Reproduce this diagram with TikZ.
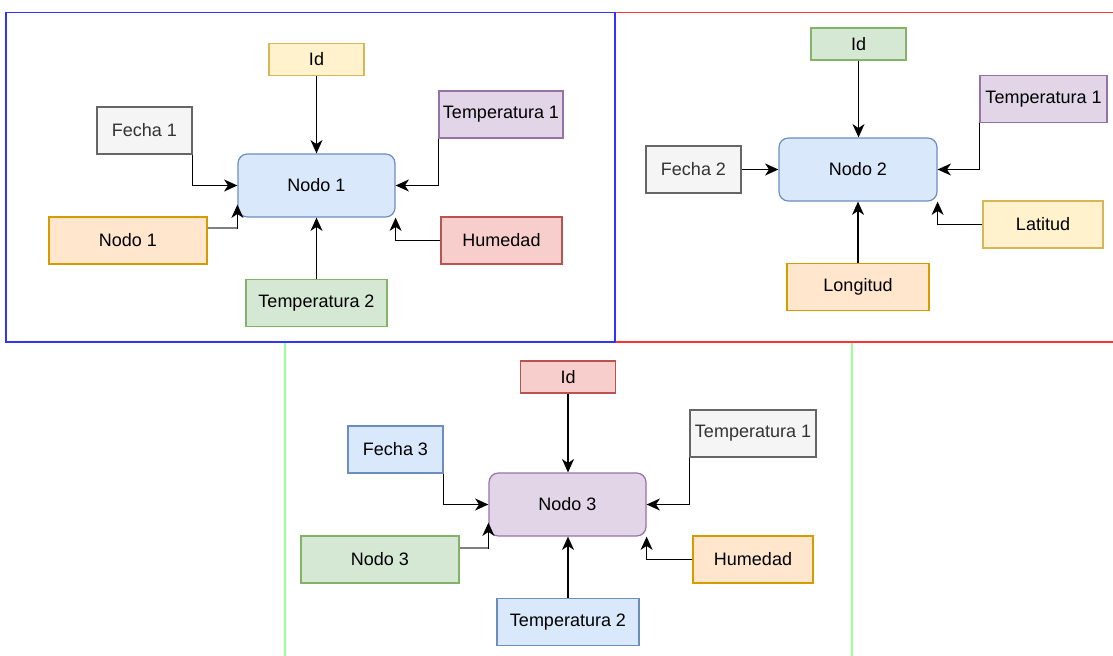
\documentclass[tikz,border=0pt]{standalone}
\usepackage{fontspec}
\setmainfont{Liberation Sans}
\usetikzlibrary{arrows.meta,calc}
\definecolor{yfill}{HTML}{FFF2CC}\definecolor{ydraw}{HTML}{D6B656}
\definecolor{gfill}{HTML}{F5F5F5}\definecolor{gdraw}{HTML}{666666}\definecolor{gtext}{HTML}{333333}
\definecolor{pfill}{HTML}{E1D5E7}\definecolor{pdraw}{HTML}{9673A6}
\definecolor{bfill}{HTML}{DAE8FC}\definecolor{bdraw}{HTML}{6C8EBF}
\definecolor{ofill}{HTML}{FFE6CC}\definecolor{odraw}{HTML}{D79B00}
\definecolor{rfill}{HTML}{F8CECC}\definecolor{rdraw}{HTML}{B85450}
\definecolor{grfill}{HTML}{D5E8D4}\definecolor{grdraw}{HTML}{82B366}
\definecolor{frameblue}{HTML}{3333FF}\definecolor{framered}{HTML}{FF3333}\definecolor{framegreen}{HTML}{99FF99}
\begin{document}
\begin{tikzpicture}[x=0.75pt,y=-0.75pt,
  font=\fontsize{13.5}{16}\selectfont,
  box/.style 2 args={draw=#2,fill=#1,line width=0.9pt,inner sep=0pt,text=black},
  ybox/.style={box={yfill}{ydraw}},
  gbox/.style={box={gfill}{gdraw},text=gtext},
  pbox/.style={box={pfill}{pdraw}},
  bbox/.style={box={bfill}{bdraw}},
  obox/.style={box={ofill}{odraw}},
  rbox/.style={box={rfill}{rdraw}},
  grbox/.style={box={grfill}{grdraw}},
  hub/.style={rounded corners=7pt},
  sz/.style 2 args={minimum width=#1*0.75pt,minimum height=#2*0.75pt},
  conn/.style={draw=black,line width=1.05pt,-{Stealth[length=10pt,width=9pt,inset=3pt]}},
  grayseg/.style={draw=gray,line width=2pt},
  frame/.style={line width=1.3pt}]
\useasboundingbox (0,0) rectangle (1113,656);
\fill[white] (0,0) rectangle (1113,656);
% frames
\draw[frame,framegreen] (285,342) -- (285,656);
\draw[frame,framegreen] (852,342) -- (852,656);
\draw[frame,framered] (615,12.5) -- (1113,12.5);
\draw[frame,framered] (615,342) -- (1113,342);
\draw[frame,frameblue] (6,12.5) rectangle (615,342);
% panel 1
\node[ybox,sz={95}{32}] (id1) at (316.5,59.5) {Id};
\node[gbox,sz={95}{47}] (fe1) at (144.5,130.5) {Fecha 1};
\node[pbox,sz={124}{47}] (t11) at (501,114.5) {Temperatura 1};
\node[bbox,hub,sz={157}{63}] (n1) at (316.5,185.5) {Nodo 1};
\node[obox,sz={158}{47}] (no1) at (128,240.5) {Nodo 1};
\node[rbox,sz={121}{47}] (hu1) at (501.5,240.5) {Humedad};
\node[grbox,sz={141}{47}] (t21) at (316.5,303) {Temperatura 2};
\coordinate (a1) at ($(no1.east)+(0,-12.5)$);
\coordinate (b1) at ($(n1.south west)+(0,-13)$);
\draw[conn] (id1.south) -- (n1.north);
\draw[conn] (fe1.south east) |- (n1.west);
\draw[conn] (t11.south west) |- (n1.east);
\draw[conn] (a1) -| (b1);
\draw[grayseg] (a1) -- ($(a1 -| b1)+(-0.5,0)$);
\draw[conn] (hu1.west) -| (n1.south east);
\draw[conn] (t21.north) -- (n1.south);
% panel 2
\node[grbox,sz={95}{32}] (id2) at (858.5,44) {Id};
\node[pbox,sz={127}{47}] (t12) at (1043.5,99) {Temperatura 1};
\node[gbox,sz={95}{47}] (fe2) at (693.5,169.5) {Fecha 2};
\node[bbox,hub,sz={158}{63}] (n2) at (858,169.5) {Nodo 2};
\node[ybox,sz={120}{47}] (la2) at (1043,224.5) {Latitud};
\node[obox,sz={142}{47}] (lo2) at (858,287) {Longitud};
\draw[conn] (id2.south) -- (id2.south |- n2.north);
\draw[conn] (fe2.east) -- (n2.west);
\draw[conn] (t12.south west) |- (n2.east);
\draw[conn] (la2.west) -| (n2.south east);
\draw[conn] (lo2.north) -- (n2.south);
% panel 3
\node[rbox,sz={95}{32}] (id3) at (568,377) {Id};
\node[bbox,sz={95}{47}] (fe3) at (395.5,449.5) {Fecha 3};
\node[gbox,sz={126}{47}] (t13) at (753,433.5) {Temperatura 1};
\node[pbox,hub,sz={157}{63}] (n3) at (567.5,504.5) {Nodo 3};
\node[grbox,sz={158}{47}] (no3) at (380,559.5) {Nodo 3};
\node[obox,sz={120}{47}] (hu3) at (753,559.5) {Humedad};
\node[bbox,sz={142}{47}] (t23) at (568,622) {Temperatura 2};
\coordinate (a3) at ($(no3.east)+(0,-11.5)$);
\coordinate (b3) at ($(n3.south west)+(0,-14)$);
\draw[conn] (id3.south) -- (id3.south |- n3.north);
\draw[conn] (fe3.south east) |- (n3.west);
\draw[conn] (t13.south west) |- (n3.east);
\draw[conn] (a3) -| (b3);
\draw[grayseg] (a3) -- ($(a3 -| b3)+(-0.5,0)$);
\draw[conn] (hu3.west) -| (n3.south east);
\draw[conn] (t23.north) -- (t23.north |- n3.south);
\end{tikzpicture}
\end{document}
